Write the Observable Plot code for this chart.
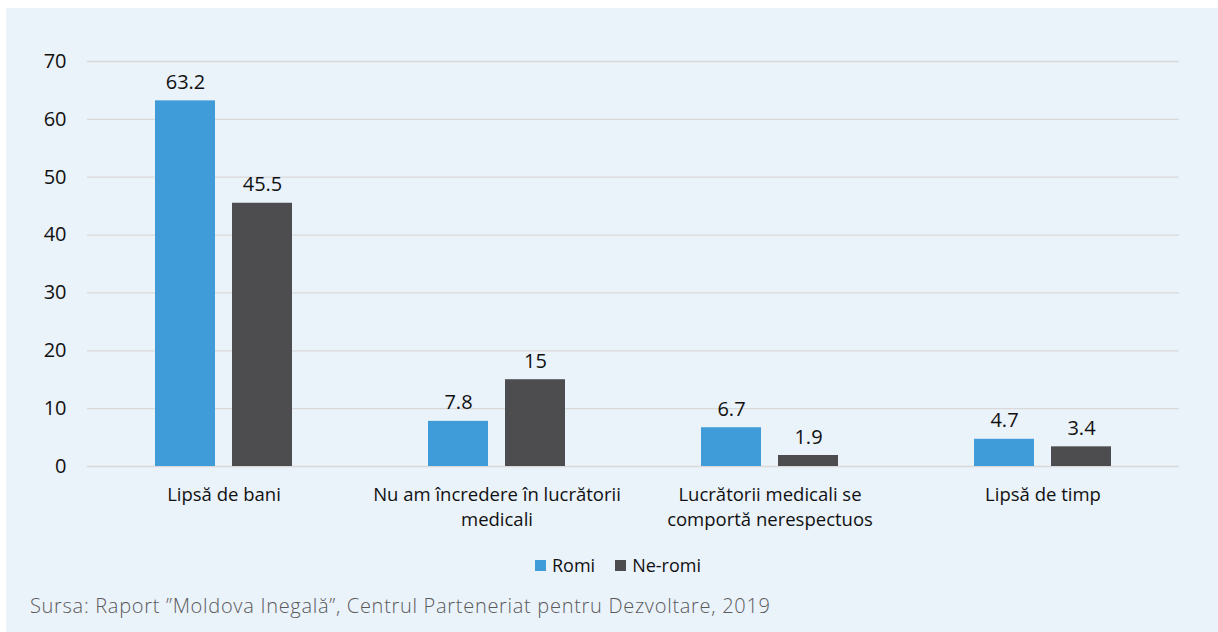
<!DOCTYPE html>
<html>
<head>
<meta charset="utf-8">
<script src="https://cdn.jsdelivr.net/npm/d3@7"></script>
<script src="https://cdn.jsdelivr.net/npm/@observablehq/plot@0.6"></script>
<style>
  html, body { margin: 0; padding: 0; background: #ffffff; }
  #panel {
    position: absolute; left: 6px; top: 8px; width: 1212px; height: 624px;
    background: #EAF2FA; font-family: "Open Sans", sans-serif;
  }
  #chart { position: absolute; left: -6px; top: -8px; }
  #legend {
    position: absolute; left: 0; top: 545px; width: 1212px;
    display: flex; justify-content: center; gap: 20px;
    font-size: 18px; color: #111; padding-left: 12px; box-sizing: border-box;
  }
  #legend .item { display: flex; align-items: center; gap: 6px; }
  #legend .sw { width: 11px; height: 11px; display: inline-block; }
  #caption {
    position: absolute; left: 24px; top: 584px;
    font-size: 20px; letter-spacing: 0.7px; color: #5a5a5a; font-weight: 300; white-space: nowrap;
  }
</style>
</head>
<body>
<div id="panel">
  <div id="chart"></div>
  <div id="legend"></div>
  <div id="caption">Sursa: Raport ”Moldova Inegală”, Centrul Parteneriat pentru Dezvoltare, 2019</div>
</div>
<script>
const categories = [
  "Lipsă de bani",
  "Nu am încredere în lucrătorii medicali",
  "Lucrătorii medicali se comportă nerespectuos",
  "Lipsă de timp"
];
const categoryLabels = [
  "Lipsă de bani",
  "Nu am încredere în lucrătorii\nmedicali",
  "Lucrătorii medicali se\ncomportă nerespectuos",
  "Lipsă de timp"
];
const seriesNames = ["Romi", "Ne-romi"];
const seriesColors = ["#3F9CD8", "#4D4D4F"];
const romiValues = [63.2, 7.8, 6.7, 4.7];
const neRomiValues = [45.5, 15, 1.9, 3.4];
const valueLabels = [["63.2", "7.8", "6.7", "4.7"], ["45.5", "15", "1.9", "3.4"]];
const yTicks = [0, 10, 20, 30, 40, 50, 60, 70];

const data = [];
categories.forEach((c, i) => {
  data.push({cat: c, series: seriesNames[0], value: romiValues[i], label: valueLabels[0][i]});
  data.push({cat: c, series: seriesNames[1], value: neRomiValues[i], label: valueLabels[1][i]});
});
const labelOf = new Map(categories.map((c, i) => [c, categoryLabels[i]]));

const FS = 18.5;
const NFS = 20;
const chart = Plot.plot({
  width: 1218,
  height: 545,
  marginLeft: 85,
  marginRight: 38,
  marginTop: 61,
  marginBottom: 79,
  style: {fontFamily: "'Open Sans', sans-serif", fontSize: FS + "px", color: "#111", background: "transparent"},
  fx: {domain: categories, padding: 0, label: null},
  x: {domain: seriesNames, paddingInner: 0.218, paddingOuter: 0.864, axis: null},
  y: {domain: [0, 70], ticks: yTicks, label: null},
  color: {domain: seriesNames, range: seriesColors},
  marks: [
    Plot.ruleY(yTicks, {stroke: "#D9D9D9", strokeWidth: 1.3}),
    Plot.barY(data, {fx: "cat", x: "series", y: "value", fill: "series"}),
    Plot.text(data, {fx: "cat", x: "series", y: "value", text: "label", lineAnchor: "bottom", dy: -12, fontSize: NFS, fill: "#111"}),
    Plot.axisY({ticks: yTicks, label: null, tickSize: 0, tickPadding: 21, fontSize: NFS, fill: "#111"}),
    Plot.axisFx({anchor: "bottom", label: null, tickSize: 0, tickPadding: 17, lineHeight: 1.35,
                 fontSize: FS, tickFormat: d => labelOf.get(d), fill: "#111"})
  ]
});
chart.querySelectorAll("text").forEach(t => t.setAttribute("fill", "#111"));
document.getElementById("chart").appendChild(chart);

const legend = document.getElementById("legend");
seriesNames.forEach((s, i) => {
  const item = document.createElement("span");
  item.className = "item";
  const sw = document.createElement("span");
  sw.className = "sw";
  sw.style.background = seriesColors[i];
  item.appendChild(sw);
  item.appendChild(document.createTextNode(s));
  legend.appendChild(item);
});
</script>
</body>
</html>
